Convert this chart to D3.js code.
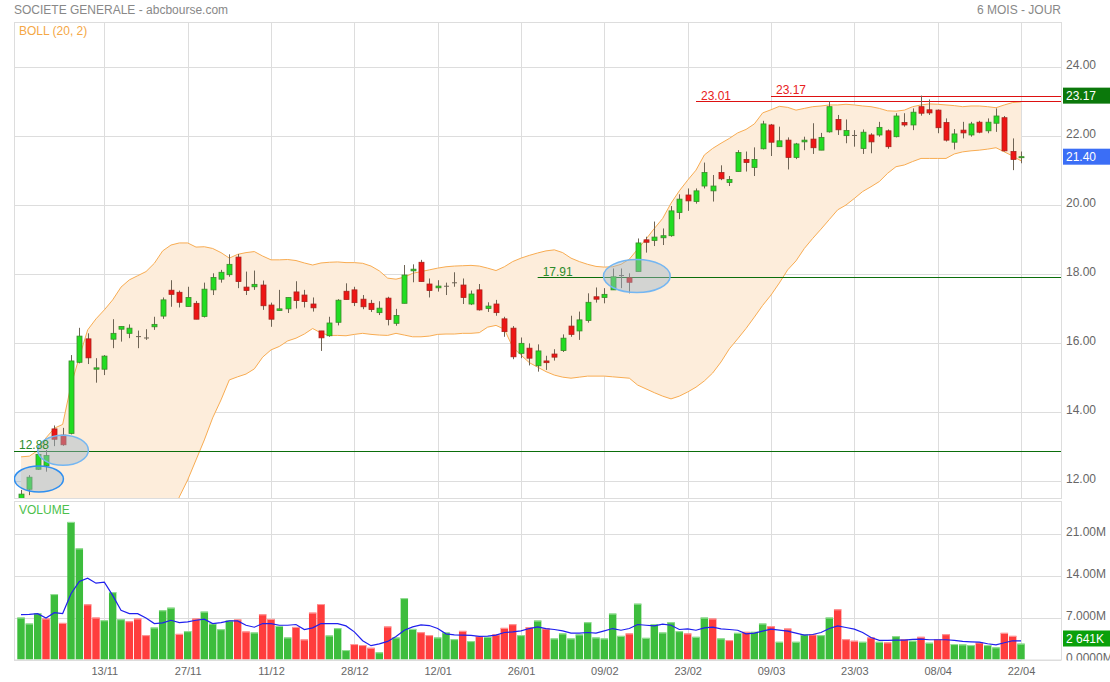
<!DOCTYPE html>
<html>
<head>
<meta charset="utf-8">
<title>SOCIETE GENERALE - abcbourse.com</title>
<script src="https://d3js.org/d3.v7.min.js"></script>
<style>
  body { margin: 0; background: #fff; }
  svg text { font-family: "Liberation Sans", Arial, sans-serif; }
</style>
</head>
<body>
<svg id="chart" width="1110" height="682"></svg>
<script>
// daily candles, 6 months (index 0 .. 120)
const opens = [11.45,11.76,12.34,12.44,13.51,13.33,13.38,15.44,16.12,15.24,
  15.24,16.11,16.40,16.28,16.20,16.16,16.47,16.78,17.53,17.47,
  17.06,17.15,16.77,17.54,17.85,17.98,18.49,17.62,17.63,17.68,
  17.10,16.94,16.99,17.48,17.39,17.13,16.35,16.21,16.60,17.50,
  17.54,17.27,17.15,16.88,17.30,16.57,17.15,18.09,18.34,17.71,
  17.60,17.66,17.76,17.68,17.13,17.54,17.00,17.13,16.70,16.43,
  15.70,15.85,15.34,15.48,15.68,15.78,16.49,16.35,16.65,17.34,
  17.32,17.54,17.97,17.89,18.07,18.99,18.97,19.05,19.11,19.78,
  20.29,20.10,20.55,20.41,20.94,20.65,20.97,21.32,21.09,21.63,
  22.32,21.69,21.88,21.38,21.83,21.91,21.59,22.12,22.48,22.01,
  22.03,21.64,22.03,22.03,22.15,21.98,22.39,22.32,22.85,22.76,
  22.75,22.39,21.82,22.17,22.03,22.40,22.15,22.37,22.53,21.55,
  21.38];
const highs = [11.74,12.17,12.80,12.90,13.61,13.54,15.65,16.44,16.28,15.56,
  15.65,16.69,16.48,16.54,16.36,16.40,16.76,17.32,17.82,17.52,
  17.63,17.22,17.75,18.02,18.12,18.57,18.58,18.07,18.10,17.81,
  17.17,17.54,17.32,17.79,17.54,17.32,16.35,16.76,17.27,17.73,
  17.63,17.39,17.25,17.21,17.34,16.99,18.26,18.28,18.41,17.87,
  17.82,17.75,18.05,17.87,17.52,17.71,17.18,17.25,16.76,16.49,
  16.16,15.99,15.96,15.63,15.82,16.25,16.79,16.91,17.44,17.61,
  17.59,18.16,18.16,18.02,19.03,19.08,19.52,19.32,19.97,20.31,
  20.48,20.48,21.23,20.87,21.15,20.84,21.59,21.55,21.67,22.44,
  22.35,22.27,21.96,21.80,21.98,22.37,22.09,23.01,22.61,22.48,
  22.17,22.19,22.08,22.41,22.19,22.66,22.66,22.80,23.17,23.06,
  22.77,22.51,22.20,22.41,22.41,22.44,22.51,22.80,22.58,21.93,
  21.55];
const lows = [11.40,11.59,12.32,12.27,13.01,13.02,13.35,15.41,15.39,14.85,
  15.07,15.85,16.04,16.14,15.85,16.09,16.38,16.70,17.05,17.03,
  17.06,16.69,16.74,17.39,17.75,17.92,17.59,17.39,17.54,16.96,
  16.47,16.93,16.87,17.00,17.03,16.91,15.77,16.18,16.51,17.26,
  17.07,16.98,16.90,16.81,16.51,16.50,17.15,17.76,17.78,17.32,
  17.49,17.39,17.63,17.13,17.10,16.94,16.90,16.79,16.18,15.53,
  15.56,15.35,15.17,15.22,15.49,15.74,16.18,16.09,16.59,17.17,
  17.15,17.54,17.59,17.44,18.07,18.62,18.81,18.84,19.08,19.59,
  19.83,20.04,20.48,20.10,20.72,20.55,20.97,20.97,20.84,21.61,
  21.42,21.69,21.03,21.33,21.59,21.48,21.59,22.10,22.03,21.79,
  21.69,21.48,21.50,21.98,21.63,21.96,22.27,22.17,22.59,22.61,
  22.08,21.84,21.61,21.93,21.98,22.08,22.08,22.12,21.55,21.01,
  21.21];
const closes = [11.62,12.11,12.77,12.74,13.21,13.05,15.48,16.20,15.57,15.28,
  15.62,16.28,16.48,16.43,16.20,16.16,16.54,17.25,17.41,17.18,
  17.32,16.69,17.56,17.90,18.05,18.28,17.78,17.52,17.70,17.08,
  16.69,16.99,17.32,17.23,17.20,17.02,16.15,16.58,17.24,17.26,
  17.17,17.05,16.97,17.01,16.68,16.80,17.97,18.14,17.78,17.52,
  17.65,17.66,17.76,17.32,17.42,16.96,17.07,16.88,16.33,15.60,
  15.99,15.56,15.77,15.43,15.59,16.14,16.25,16.67,17.18,17.27,
  17.41,17.92,17.97,17.76,18.90,18.92,19.07,19.11,19.83,20.17,
  20.12,20.41,20.94,20.55,20.76,20.74,21.52,21.23,21.32,22.35,
  21.82,21.86,21.38,21.77,21.88,21.66,21.96,22.85,22.18,22.16,
  22.03,22.11,21.83,22.25,21.69,22.58,22.32,22.69,22.66,22.67,
  22.24,21.88,22.06,22.09,22.35,22.11,22.40,22.58,21.57,21.32,
  21.40];

// Bollinger (20, 2) bands as drawn
const bollUpper = [12.70,12.72,12.88,13.25,13.53,13.64,14.78,15.59,16.38,16.70,
  16.96,17.25,17.62,17.83,17.95,18.07,18.31,18.67,18.84,18.90,
  18.90,18.78,18.79,18.74,18.62,18.46,18.57,18.62,18.65,18.52,
  18.41,18.41,18.42,18.39,18.32,18.26,18.32,18.34,18.35,18.33,
  18.33,18.31,18.23,18.09,17.88,17.85,17.91,18.02,18.07,18.12,
  18.17,18.21,18.23,18.24,18.25,18.23,18.17,18.10,18.21,18.36,
  18.46,18.54,18.61,18.67,18.70,18.62,18.46,18.36,18.28,18.22,
  18.20,18.21,18.28,18.43,18.72,19.01,19.32,19.61,20.05,20.41,
  20.72,21.01,21.45,21.64,21.79,21.93,22.09,22.19,22.35,22.67,
  22.76,22.86,22.83,22.75,22.80,22.85,22.87,22.90,22.90,22.92,
  22.90,22.87,22.85,22.80,22.73,22.72,22.75,22.85,22.90,22.93,
  22.92,22.90,22.88,22.85,22.87,22.87,22.85,22.82,22.90,22.97,
  22.99];
const bollLower = [11.30,11.20,11.00,10.60,10.30,10.10,9.60,9.20,8.90,8.80,
  8.80,8.80,8.90,9.10,9.30,9.60,9.90,10.30,10.90,11.54,
  12.03,12.61,13.19,13.83,14.35,14.93,15.02,15.10,15.25,15.59,
  15.80,15.90,16.06,16.14,16.26,16.42,16.29,16.22,16.22,16.21,
  16.25,16.28,16.25,16.23,16.22,16.28,16.23,16.18,16.18,16.20,
  16.25,16.26,16.26,16.28,16.28,16.30,16.46,16.51,16.40,15.88,
  15.65,15.43,15.30,15.17,15.07,15.01,14.98,15.01,15.04,15.04,
  15.04,15.02,15.00,14.98,14.78,14.67,14.56,14.46,14.38,14.46,
  14.58,14.72,14.90,15.13,15.45,15.83,16.12,16.42,16.75,17.09,
  17.39,17.74,18.12,18.38,18.74,19.03,19.30,19.58,19.86,20.00,
  20.19,20.39,20.53,20.68,20.92,21.11,21.16,21.26,21.35,21.35,
  21.35,21.35,21.48,21.54,21.57,21.59,21.62,21.66,21.54,21.42,
  21.28];

// volume in millions of shares + its moving average
const volumes = [6.99,5.99,7.70,6.82,10.9,6.10,22.93,18.51,9.19,6.99,
  6.54,11.23,6.71,6.37,6.82,4.06,5.33,8.20,8.64,4.27,
  4.72,6.82,7.98,5.99,5.05,6.49,6.66,4.67,4.50,7.53,
  6.76,5.60,3.67,5.43,3.34,7.81,9.24,4.00,5.22,1.57,
  2.57,2.40,1.95,1.19,5.50,3.67,10.23,5.10,4.55,4.06,
  3.67,4.50,3.39,4.77,3.06,3.89,3.78,4.17,5.27,5.88,
  4.06,5.38,6.49,5.16,3.51,4.34,3.51,4.17,6.21,3.67,
  3.51,7.65,3.94,4.34,9.30,3.61,5.88,4.50,6.21,4.72,
  4.34,3.78,6.99,6.82,3.51,3.23,4.44,4.61,4.61,5.99,
  5.55,2.95,5.16,2.95,4.17,4.17,4.06,6.99,8.36,3.39,
  3.12,2.95,3.67,2.95,2.84,3.89,3.39,3.12,3.78,2.79,
  3.39,4.22,2.57,2.51,2.40,2.84,2.40,2.02,4.44,3.94,
  2.641];
const volumeAvg = [7.48,7.53,7.65,6.92,7.81,7.65,10.96,13.0,13.54,12.72,
  12.88,10.68,8.20,7.65,7.65,6.92,5.99,6.10,6.54,6.16,
  6.26,6.54,6.71,5.99,6.16,6.43,6.43,5.71,5.38,5.99,
  5.99,5.71,5.71,5.83,5.00,5.27,5.99,5.99,5.99,5.60,
  4.61,3.12,2.30,2.60,3.01,3.84,4.88,5.43,5.76,5.66,
  5.16,4.27,4.11,4.06,4.01,3.84,3.89,4.06,4.50,4.61,
  4.77,5.16,5.43,5.16,5.00,4.77,4.39,4.39,4.50,4.39,
  4.77,5.16,4.88,5.16,5.83,5.71,5.60,5.88,5.71,5.00,
  5.10,4.88,5.27,5.38,5.10,5.00,4.88,4.27,4.39,4.72,
  5.05,4.88,4.72,4.39,4.06,4.17,4.50,5.16,5.60,5.33,
  5.05,4.50,3.67,3.18,3.18,3.23,3.23,3.34,3.39,3.29,
  3.29,3.29,3.18,3.01,2.95,2.90,2.62,2.45,2.79,3.12,
  3.12];

// axis labels
const dateIdx = [10, 20, 30, 40, 50, 60, 70, 80, 90, 100, 110, 120];
const dateLabels = ["13/11","27/11","11/12","28/12","12/01","26/01","09/02","23/02","09/03","23/03","08/04","22/04"];
const priceTicks = [12, 14, 16, 18, 20, 22, 24];
const volTicks = [0, 7, 14, 21];
const volTickLabels = ["0.0000M", "7.000M", "14.00M", "21.00M"];

// support / resistance lines drawn by the user
const levelPrices = [12.88, 17.91, 23.01, 23.17];
const levelFrom = [-0.84, 62.0, 81.0, 90.0];
const levelKind = ["support", "support", "resistance", "resistance"];

// highlighted zones (centre index, centre price, half width in days, half height in price)
const zoneIdx = [2.15, 5.05, 73.9];
const zonePrice = [12.06, 12.89, 17.94];
const zoneDays = [2.94, 3.04, 4.0];
const zoneSpan = [0.377, 0.435, 0.478];
const zoneStroke = ["#2f8ff0", "#74b6f2", "#74b6f2"];

const svg = d3.select("#chart");
const left = 14, right = 1061;
const pTop = 22, pBottom = 498, vTop = 501, vBottom = 659.5;

const x = d3.scaleLinear().domain([0, 120]).range([21, 1021]);
const yPrice = d3.scaleLinear().domain([12, 24]).range([481, 67]);
const yVol = d3.scaleLinear().domain([0, 21]).range([vBottom, 533.5]);

const defs = svg.append("defs");
defs.append("clipPath").attr("id", "priceClip")
  .append("rect").attr("x", left).attr("y", pTop).attr("width", right - left).attr("height", pBottom - pTop);
defs.append("clipPath").attr("id", "volClip")
  .append("rect").attr("x", left).attr("y", vTop).attr("width", right - left).attr("height", vBottom - vTop);
// the axis group is translated by `right`, so this clip is in its local space
defs.append("clipPath").attr("id", "volAxisClip")
  .append("rect").attr("x", 0).attr("y", vTop).attr("width", 60).attr("height", vBottom - vTop + 1);

// header
svg.append("text").attr("x", left).attr("y", 14).attr("font-size", 12).attr("fill", "#888")
  .text("SOCIETE GENERALE - abcbourse.com");
svg.append("text").attr("x", right).attr("y", 14).attr("font-size", 12).attr("fill", "#888")
  .attr("text-anchor", "end").text("6 MOIS - JOUR");

// grids
const grid = svg.append("g").attr("stroke", "#dddddd").attr("stroke-width", 1);
grid.selectAll(".hp").data(priceTicks).join("line")
  .attr("x1", left).attr("x2", right)
  .attr("y1", d => Math.round(yPrice(d)) + 0.5).attr("y2", d => Math.round(yPrice(d)) + 0.5);
grid.selectAll(".hv").data(volTicks).join("line")
  .attr("x1", left).attr("x2", right)
  .attr("y1", d => Math.round(yVol(d)) + 0.5).attr("y2", d => Math.round(yVol(d)) + 0.5);
grid.selectAll(".vp").data(dateIdx).join("line")
  .attr("x1", d => Math.round(x(d)) + 0.5).attr("x2", d => Math.round(x(d)) + 0.5)
  .attr("y1", pTop).attr("y2", pBottom);
grid.selectAll(".vv").data(dateIdx).join("line")
  .attr("x1", d => Math.round(x(d)) + 0.5).attr("x2", d => Math.round(x(d)) + 0.5)
  .attr("y1", vTop).attr("y2", vBottom);
svg.append("rect").attr("x", left + 0.5).attr("y", pTop + 0.5).attr("width", right - left).attr("height", pBottom - pTop)
  .attr("fill", "none").attr("stroke", "#dddddd");
svg.append("rect").attr("x", left + 0.5).attr("y", vTop + 0.5).attr("width", right - left).attr("height", vBottom - vTop)
  .attr("fill", "none").attr("stroke", "#dddddd");

// price panel
const price = svg.append("g").attr("clip-path", "url(#priceClip)");
const idx = d3.range(closes.length);

const band = d3.area().x(i => x(i)).y0(i => yPrice(bollLower[i])).y1(i => yPrice(bollUpper[i]));
price.append("path").datum(idx).attr("d", band).attr("fill", "#fdeddb");
const upLine = d3.line().x(i => x(i)).y(i => yPrice(bollUpper[i]));
const loLine = d3.line().x(i => x(i)).y(i => yPrice(bollLower[i]));
price.append("path").datum(idx).attr("d", upLine).attr("fill", "none").attr("stroke", "#f8ac52").attr("stroke-width", 1);
price.append("path").datum(idx).attr("d", loLine).attr("fill", "none").attr("stroke", "#f8ac52").attr("stroke-width", 1);

const levelColor = k => k === "support" ? "#0b6e0b" : "#dd1111";
const levelText = k => k === "support" ? "#2c8c2c" : "#e82020";
price.selectAll(".level").data(levelPrices).join("line")
  .attr("x1", (d, i) => Math.max(left, x(levelFrom[i]))).attr("x2", right)
  .attr("y1", d => Math.round(yPrice(d)) + 0.5).attr("y2", d => Math.round(yPrice(d)) + 0.5)
  .attr("stroke", (d, i) => levelColor(levelKind[i])).attr("stroke-width", 1);

// candles
const candles = price.append("g");
candles.selectAll(".wick").data(idx).join("line")
  .attr("x1", i => Math.round(x(i)) + 0.5).attr("x2", i => Math.round(x(i)) + 0.5)
  .attr("y1", i => yPrice(highs[i])).attr("y2", i => yPrice(lows[i]))
  .attr("stroke", "#6e6455").attr("stroke-width", 1);
candles.selectAll(".body").data(idx).join("rect")
  .attr("x", i => Math.round(x(i)) - 2)
  .attr("y", i => yPrice(Math.max(opens[i], closes[i])))
  .attr("width", 5)
  .attr("height", i => Math.max(1, Math.abs(yPrice(opens[i]) - yPrice(closes[i]))))
  .attr("fill", i => closes[i] > opens[i] ? "#22dd22" : closes[i] < opens[i] ? "#ee1515" : "#6e6455")
  .attr("stroke", i => closes[i] > opens[i] ? "#3b8a2a" : closes[i] < opens[i] ? "#a8231c" : "#6e6455")
  .attr("stroke-width", i => closes[i] === opens[i] ? 0 : 0.8);

// highlighted zones
price.selectAll(".zone").data(zoneIdx).join("ellipse")
  .attr("cx", d => x(d))
  .attr("cy", (d, i) => yPrice(zonePrice[i]))
  .attr("rx", (d, i) => x(zoneDays[i]) - x(0))
  .attr("ry", (d, i) => yPrice(0) - yPrice(zoneSpan[i]))
  .attr("fill", "#9fb6c8").attr("fill-opacity", 0.45)
  .attr("stroke", (d, i) => zoneStroke[i]).attr("stroke-width", 1.5);

price.selectAll(".levelLabel").data(levelPrices).join("text")
  .attr("x", (d, i) => Math.max(left, x(levelFrom[i])) + 5)
  .attr("y", d => yPrice(d) - 1.5)
  .attr("font-size", 12)
  .attr("fill", (d, i) => levelText(levelKind[i]))
  .text(d => d.toFixed(2));

svg.append("text").attr("x", 19).attr("y", 35).attr("font-size", 12).attr("fill", "#f5a845").text("BOLL (20, 2)");

// volume panel
const vol = svg.append("g").attr("clip-path", "url(#volClip)");
const volColor = i => (i === 0 || closes[i] >= closes[i - 1]) ? "#3dbd3d" : "#ff3d3d";
const volTop = i => (i === 0 || closes[i] >= closes[i - 1]) ? "#9be09b" : "#ff9e9e";
vol.selectAll(".bar").data(idx).join("rect")
  .attr("x", i => x(i) - 3.7).attr("width", 7.4)
  .attr("y", i => yVol(volumes[i])).attr("height", i => yVol(0) - yVol(volumes[i]))
  .attr("fill", volColor);
vol.selectAll(".cap").data(idx).join("rect")
  .attr("x", i => x(i) - 3.7).attr("width", 7.4)
  .attr("y", i => yVol(volumes[i])).attr("height", 1)
  .attr("fill", volTop);
const avgLine = d3.line().x(i => x(i)).y(i => yVol(volumeAvg[i]));
vol.append("path").datum(idx).attr("d", avgLine).attr("fill", "none").attr("stroke", "#2020ee").attr("stroke-width", 1.2);
svg.append("text").attr("x", 19).attr("y", 514).attr("font-size", 12).attr("fill", "#4cbf4c").text("VOLUME");

// axes
const pAxis = svg.append("g").attr("transform", `translate(${right},0)`)
  .call(d3.axisRight(yPrice).tickValues(priceTicks).tickFormat(d3.format(".2f")).tickSize(0).tickPadding(5));
const vAxis = svg.append("g").attr("transform", `translate(${right},0)`).attr("clip-path", "url(#volAxisClip)")
  .call(d3.axisRight(yVol).tickValues(volTicks).tickFormat((d, i) => volTickLabels[i]).tickSize(0).tickPadding(5));
const xAxis = svg.append("g").attr("transform", `translate(0,${vBottom + 2})`)
  .call(d3.axisBottom(x).tickValues(dateIdx).tickFormat((d, i) => dateLabels[i]).tickSize(0).tickPadding(6));
[pAxis, vAxis, xAxis].forEach(a => {
  a.select(".domain").remove();
  a.selectAll("text").attr("font-family", "Liberation Sans, Arial, sans-serif").attr("fill", "#666");
});
pAxis.selectAll("text").attr("font-size", 12).attr("dy", "0.15em");
vAxis.selectAll("text").attr("font-size", 12).attr("dy", "0.15em");
xAxis.selectAll("text").attr("font-size", 11);

// last value flags
const last = closes.length - 1;
const flags = [
  { y: yPrice(d3.max(highs)), label: d3.max(highs).toFixed(2), color: "#0b780b" },
  { y: yPrice(closes[last]), label: closes[last].toFixed(2), color: "#3b6ef6" },
  { y: Math.min(yVol(volumes[last]), vBottom - 21), label: d3.format(",.0f")(volumes[last] * 1000).replace(",", " ") + "K", color: "#0aa00a" }
];
const flag = svg.selectAll(".flag").data(flags).join("g");
flag.append("rect").attr("x", right + 2).attr("y", d => d.y - 8).attr("width", 48).attr("height", 16).attr("fill", d => d.color);
flag.append("text").attr("x", right + 5).attr("y", d => d.y + 4.5).attr("font-size", 12).attr("fill", "#fff").text(d => d.label);
</script>
</body>
</html>
